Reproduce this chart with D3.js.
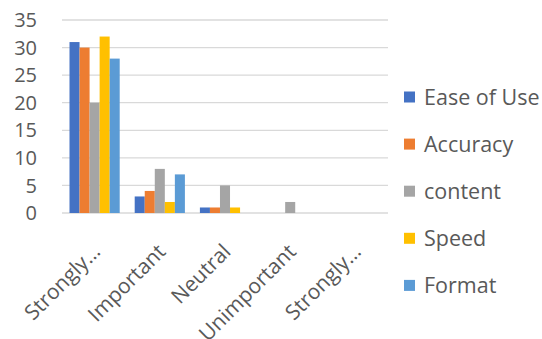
<!DOCTYPE html>
<html><head><meta charset="utf-8">
<script src="https://cdn.jsdelivr.net/npm/d3@7"></script>
<style>body{margin:0;background:#fff}svg{display:block}text{font-family:"Open Sans",sans-serif;fill:#595959}</style>
</head><body><svg id="c" width="542" height="339"></svg>
<script>
const categories = ["Strongly…", "Important", "Neutral", "Unimportant", "Strongly…"];
const seriesNames = ["Ease of Use", "Accuracy", "content", "Speed", "Format"];
const easeOfUse = [31, 3, 1, 0, 0];
const accuracy = [30, 4, 1, 0, 0];
const content = [20, 8, 5, 2, 0];
const speed = [32, 2, 1, 0, 0];
const format = [28, 7, 0, 0, 0];
const yTicks = [0, 5, 10, 15, 20, 25, 30, 35];
const colors = ["#4472C4", "#ED7D31", "#A5A5A5", "#FFC000", "#5B9BD5"];

(function () {
const series = [easeOfUse, accuracy, content, speed, format];
const svg = d3.select("#c");
const pl = 62, pr = 388, pt = 20, pb = 213;
const x = d3.scaleBand().domain(d3.range(categories.length)).range([pl, pr]).paddingInner(0.23).paddingOuter(0.115);
const xs = d3.scaleBand().domain(d3.range(series.length)).range([0, x.bandwidth()]);
const y = d3.scaleLinear().domain([0, 35]).range([pb, pt]);

svg.append("g").selectAll("line").data(yTicks).join("line")
  .attr("x1", pl).attr("x2", pr).attr("y1", d => y(d)).attr("y2", d => y(d))
  .attr("stroke", "#D9D9D9").attr("stroke-width", 1.3);

svg.append("g").selectAll("text").data(yTicks).join("text")
  .attr("x", 37).attr("y", d => y(d)).attr("dy", "0.36em").attr("text-anchor", "end")
  .attr("font-size", 20).text(d => d);

series.forEach((s, si) => {
  svg.append("g").selectAll("rect").data(s).join("rect")
    .attr("x", (d, i) => x(i) + xs(si)).attr("width", xs.bandwidth())
    .attr("y", d => y(d)).attr("height", d => y(0) - y(d)).attr("fill", colors[si]);
});

svg.append("g").selectAll("text").data(categories).join("text")
  .attr("transform", (d, i) => `translate(${x(i) + x.bandwidth() / 2 + 7},${pb + 40}) rotate(-45)`)
  .attr("text-anchor", "end").attr("font-size", 21).text(d => d);

const lg = svg.append("g").selectAll("g").data(seriesNames).join("g")
  .attr("transform", (d, i) => `translate(404,${97 + i * 47.1})`);
lg.append("rect").attr("x", 0).attr("y", -5.5).attr("width", 11).attr("height", 11).attr("fill", (d, i) => colors[i]);
lg.append("text").attr("x", 20).attr("dy", "0.36em").attr("font-size", 21.5).text(d => d);
})();
</script></body></html>
